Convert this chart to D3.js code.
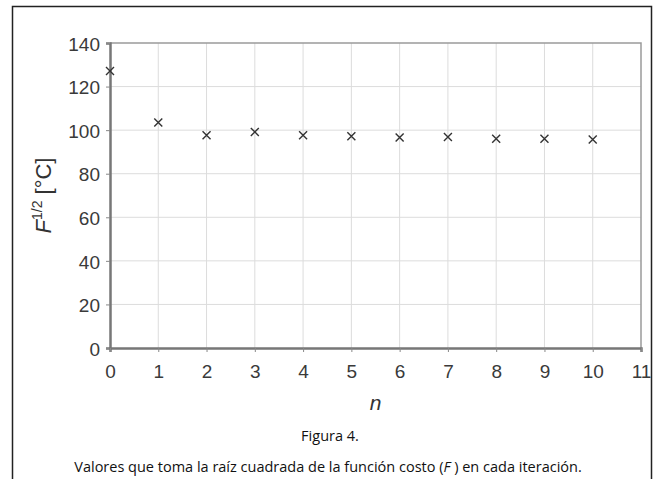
<!DOCTYPE html>
<html>
<head>
<meta charset="utf-8">
<script src="https://cdn.jsdelivr.net/npm/d3@7"></script>
<style>
    html, body { margin: 0; padding: 0; background: #ffffff; }
    svg { display: block; }
    .tick-label { font-family: "Liberation Sans", Arial, sans-serif; font-size: 19px; fill: #3a3a3a; }
    .caption { font-family: "Open Sans", "Noto Sans", sans-serif; font-size: 14.5px; fill: #111; }
</style>
</head>
<body>
<script>
const iterations = [0, 1, 2, 3, 4, 5, 6, 7, 8, 9, 10];
const sqrtCost = [127.2, 103.5, 97.7, 99.2, 97.7, 97.2, 96.6, 96.9, 96.0, 96.0, 95.7];
const xTicks = [0, 1, 2, 3, 4, 5, 6, 7, 8, 9, 10, 11];
const yTicks = [0, 20, 40, 60, 80, 100, 120, 140];

const width = 656;
const height = 479;
const plot = { left: 110, right: 641, top: 43, bottom: 348 };

const svg = d3.select("body").append("svg")
    .attr("width", width)
    .attr("height", height);

// Outer frame around figure and caption (no bottom edge visible)
svg.append("path")
    .attr("d", `M12.5,${height} V6.5 H651.5 V${height}`)
    .attr("fill", "none")
    .attr("stroke", "#222")
    .attr("stroke-width", 1.5);

const x = d3.scaleLinear().domain([0, 11]).range([plot.left, plot.right]);
const y = d3.scaleLinear().domain([0, 140]).range([plot.bottom, plot.top]);

// Grid lines
svg.append("g")
    .selectAll("line")
    .data(xTicks.slice(1, -1))
    .join("line")
    .attr("x1", d => x(d)).attr("x2", d => x(d))
    .attr("y1", plot.top).attr("y2", plot.bottom)
    .attr("stroke", "#dcdcdc").attr("stroke-width", 1);

svg.append("g")
    .selectAll("line")
    .data(yTicks.slice(1, -1))
    .join("line")
    .attr("x1", plot.left).attr("x2", plot.right)
    .attr("y1", d => y(d)).attr("y2", d => y(d))
    .attr("stroke", "#dcdcdc").attr("stroke-width", 1);

// Top and right border of the plot
svg.append("path")
    .attr("d", `M${plot.left},${plot.top} H${plot.right} V${plot.bottom}`)
    .attr("fill", "none")
    .attr("stroke", "#9a9a9a")
    .attr("stroke-width", 1.5);

// Axes
const yAxis = d3.axisLeft(y).tickValues(yTicks).tickSize(4).tickPadding(6);
const xAxis = d3.axisBottom(x).tickValues(xTicks).tickSize(4).tickPadding(16);

const gy = svg.append("g")
    .attr("transform", `translate(${plot.left},0)`)
    .call(yAxis);
const gx = svg.append("g")
    .attr("transform", `translate(0,${plot.bottom})`)
    .call(xAxis);

for (const g of [gx, gy]) {
    g.select(".domain").attr("stroke", "#777").attr("stroke-width", 2.5);
    g.selectAll(".tick line").attr("stroke", "#888").attr("stroke-width", 1);
    g.selectAll(".tick text").attr("class", "tick-label").attr("fill", null);
}
gy.selectAll(".tick text").attr("dy", "0.38em");
gx.selectAll(".tick text").attr("dy", "0.55em");

// Markers (×)
const s = 4;
svg.append("g")
    .selectAll("path")
    .data(iterations.map((n, i) => ({ n, v: sqrtCost[i] })))
    .join("path")
    .attr("d", d => {
        const cx = x(d.n), cy = y(d.v);
        return `M${cx - s},${cy - s}L${cx + s},${cy + s}M${cx - s},${cy + s}L${cx + s},${cy - s}`;
    })
    .attr("stroke", "#333")
    .attr("stroke-width", 1.4)
    .attr("fill", "none");

// Axis titles
svg.append("text")
    .attr("x", (plot.left + plot.right) / 2)
    .attr("y", 410)
    .attr("text-anchor", "middle")
    .attr("font-family", "Liberation Sans, Arial, sans-serif")
    .attr("font-style", "italic")
    .attr("font-size", 21)
    .attr("fill", "#333")
    .text("n");

const yTitle = svg.append("text")
    .attr("transform", `translate(51,${(plot.top + plot.bottom) / 2}) rotate(-90)`)
    .attr("text-anchor", "middle")
    .attr("font-family", "Liberation Sans, Arial, sans-serif")
    .attr("font-size", 22)
    .attr("fill", "#333");
yTitle.append("tspan").attr("font-style", "italic").text("F");
yTitle.append("tspan").attr("font-size", 14).attr("dy", -9).text("1/2");
yTitle.append("tspan").attr("dy", 9).text(" [°C]");

// Caption
svg.append("text")
    .attr("class", "caption")
    .attr("x", 330)
    .attr("y", 441)
    .attr("text-anchor", "middle")
    .text("Figura 4.");

const cap = svg.append("text")
    .attr("class", "caption")
    .attr("x", 328)
    .attr("y", 472)
    .attr("text-anchor", "middle");
cap.append("tspan").text("Valores que toma la raíz cuadrada de la función costo (");
cap.append("tspan").attr("font-style", "italic").text("F");
cap.append("tspan").text(" ) en cada iteración.");
</script>
</body>
</html>
